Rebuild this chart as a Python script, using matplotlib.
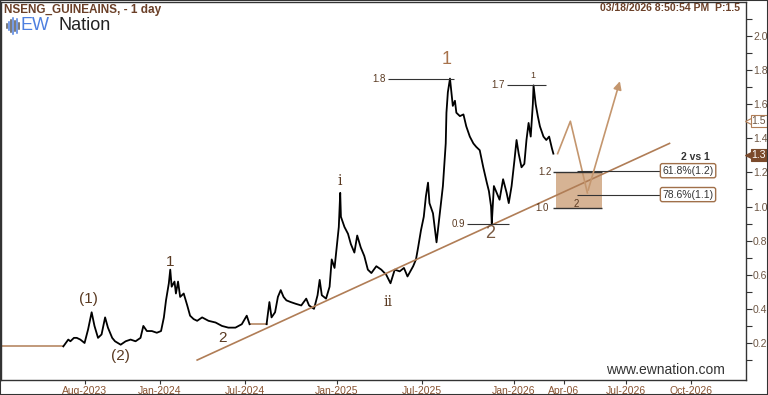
import matplotlib.pyplot as plt
from matplotlib.patches import Rectangle
from matplotlib.lines import Line2D

plt.rcParams['font.family'] = ['Liberation Sans', 'DejaVu Sans']

# daily bars (trading-day index from first bar) and price
bars_a = [0, 7, 10, 15, 19, 24, 30, 35, 40, 44, 49, 54, 59, 63, 69, 73, 81, 88, 95,
          102, 109, 113, 118, 125, 132, 138, 142, 145, 149, 151, 153, 157, 159, 162,
          165, 170, 175, 179, 184, 189, 196, 205, 215, 224, 233, 243, 252, 259, 263]
price_a = [0.18, 0.22, 0.21, 0.23, 0.23, 0.22, 0.20, 0.28, 0.38, 0.30, 0.23, 0.25, 0.35,
           0.29, 0.23, 0.21, 0.19, 0.21, 0.22, 0.21, 0.23, 0.30, 0.27, 0.27, 0.26, 0.27,
           0.35, 0.45, 0.55, 0.63, 0.53, 0.56, 0.49, 0.56, 0.47, 0.49, 0.42, 0.36, 0.34,
           0.33, 0.35, 0.33, 0.32, 0.30, 0.29, 0.29, 0.31, 0.36, 0.31]

bars_b = [287, 291, 294, 299, 303, 307, 311, 315, 321, 328, 336, 343, 347, 354, 359, 362,
          365, 371, 376, 379, 383, 386, 389, 391, 392, 397, 402, 406, 411, 415, 420, 425,
          430, 435, 442, 449, 456, 462, 468, 475, 481, 486, 494, 498, 501, 505, 509, 512,
          515, 517, 522, 527, 536, 540, 541, 543, 546, 548, 550, 553, 555, 560, 565, 569,
          574, 579, 583, 588, 593, 598, 601, 604, 605, 608, 612, 616, 621, 626, 629, 633,
          637, 640, 643, 647, 651, 654, 657, 660, 663, 664, 667, 670, 673, 678, 682, 686,
          690, 692]
price_b = [0.31, 0.44, 0.35, 0.38, 0.47, 0.51, 0.47, 0.45, 0.44, 0.43, 0.42, 0.46, 0.42,
           0.40, 0.48, 0.57, 0.48, 0.46, 0.53, 0.69, 0.64, 0.76, 0.88, 1.08, 0.94, 0.88,
           0.84, 0.78, 0.73, 0.83, 0.76, 0.71, 0.63, 0.61, 0.65, 0.63, 0.60, 0.55, 0.63,
           0.62, 0.64, 0.59, 0.65, 0.69, 0.76, 0.86, 0.94, 1.06, 1.14, 1.02, 0.96, 0.79,
           1.12, 1.37, 1.55, 1.67, 1.75, 1.67, 1.59, 1.62, 1.55, 1.53, 1.54, 1.47, 1.41,
           1.37, 1.35, 1.33, 1.23, 1.14, 1.09, 1.00, 0.90, 1.12, 1.08, 1.04, 1.16, 1.08,
           1.02, 1.12, 1.27, 1.39, 1.31, 1.23, 1.25, 1.39, 1.49, 1.41, 1.60, 1.71, 1.60,
           1.53, 1.47, 1.41, 1.39, 1.41, 1.34, 1.31]

tick_pos = [30, 136, 257, 386, 506, 636, 707, 795, 887]
tick_labels = ['Aug-2023', 'Jan-2024', 'Jul-2024', 'Jan-2025', 'Jul-2025',
               'Jan-2026', 'Apr-06', 'Jul-2026', 'Oct-2026']

trend_x = [189, 856]
trend_y = [0.10, 1.37]

proj_x = [698, 716, 740, 787]
proj_y = [1.31, 1.50, 1.08, 1.75]

zone_x = [695, 761]
zone_y = [0.99, 1.20]

fib_levels = [1.21, 1.07]
fib_labels = ['61.8%(1.2)', '78.6%(1.1)']

BROWN = '#b07d56'
DARK_BROWN = '#6b4028'
TXT = '#5a3a22'

fig = plt.figure(figsize=(7.68, 3.95), dpi=100)
ax = fig.add_axes([1 / 768, 15 / 395, 745 / 768, 378 / 395])
ax.set_xlim(-88, 964)
ax.set_ylim(-0.017, 2.199)

# price
ax.plot([-88, bars_a[0]], [price_a[0]] * 2, color=BROWN, lw=1.1)
ax.plot([bars_a[-1], bars_b[0]], [price_a[-1], price_b[0]], color=BROWN, lw=1.1)
ax.plot(bars_a, price_a, color='black', lw=1.3)
ax.plot(bars_b, price_b, color='black', lw=1.3)

# trendline and projection
ax.plot(trend_x, trend_y, color=BROWN, lw=1.2)
ax.plot(proj_x[:3], proj_y[:3], color='#c4966e', lw=1.2)
ax.annotate('', xy=(proj_x[3], proj_y[3]), xytext=(proj_x[2], proj_y[2]),
            arrowprops=dict(arrowstyle='-|>', color='#c4966e', lw=1.2, mutation_scale=12))

# target zone
ax.add_patch(Rectangle((zone_x[0], zone_y[0]), zone_x[1] - zone_x[0], zone_y[1] - zone_y[0],
                       facecolor='#d6b394', edgecolor='none', zorder=0))
ax.hlines(zone_y, zone_x[0] - 3, zone_x[1], color='#333333', lw=1)
ax.text(zone_x[0] - 6, zone_y[1], '1.2', ha='right', va='center', fontsize=7, color=TXT)
ax.text(zone_x[0] - 9, zone_y[0], '1.0', ha='right', va='center', fontsize=7, color=TXT)
ax.text(725, 1.015, '2', ha='center', va='center', fontsize=7, color=TXT)
for lvl, lab in zip(fib_levels, fib_labels):
    ax.hlines(lvl, 725, 844, color='#333333', lw=0.8)
    ax.text(846, lvl, lab, ha='left', va='center', fontsize=7.5, color='#333333',
            bbox=dict(boxstyle='round,pad=0.2', fc='white', ec='#a0704a', lw=1))
ax.text(913, 1.29, '2 vs 1', ha='right', va='center', fontsize=7.5, fontweight='bold',
        color='#333333')

# swing levels
ax.hlines(1.75, 458, 552, color='#333333', lw=0.8)
ax.text(455, 1.75, '1.8', ha='right', va='center', fontsize=7, color=TXT)
ax.hlines(1.71, 626, 681, color='#333333', lw=0.8)
ax.text(623, 1.71, '1.7', ha='right', va='center', fontsize=7, color=TXT)
ax.hlines(0.896, 570, 630, color='#333333', lw=0.8)
ax.text(567, 0.896, '0.9', ha='right', va='center', fontsize=7, color=TXT)

# wave labels
ax.text(36, 0.46, '(1)', ha='center', va='center', fontsize=11, color=TXT)
ax.text(80, 0.125, '(2)', ha='center', va='center', fontsize=11, color=TXT)
ax.text(151, 0.675, '1', ha='center', va='center', fontsize=11, color=TXT)
ax.text(225, 0.23, '2', ha='center', va='center', fontsize=11, color=TXT)
ax.text(390, 1.15, 'i', ha='center', va='center', fontsize=10, color=TXT, family='serif')
ax.text(459, 0.44, 'ii', ha='center', va='center', fontsize=10, color=TXT, family='serif')
ax.text(541, 1.86, '1', ha='center', va='center', fontsize=13, color='#a8734c')
ax.text(663, 1.77, '1', ha='center', va='center', fontsize=6.5, color=TXT)
ax.text(602, 0.84, '2', ha='center', va='center', fontsize=13, color='#7a5a42')

# axes styling
ax.yaxis.tick_right()
ax.set_yticks([0.2, 0.4, 0.6, 0.8, 1.0, 1.2, 1.4, 1.6, 1.8, 2.0])
ax.set_yticklabels(['0.2', '0.4', '0.6', '0.8', '1.0', '1.2', '1.4', '1.6', '1.8', '2.0'])
ax.set_yticks([0.1, 0.3, 0.5, 0.7, 0.9, 1.1, 1.3, 1.5, 1.7, 1.9, 2.1], minor=True)
ax.tick_params(axis='y', which='both', direction='out', length=4, width=0.8,
               labelsize=7.5, labelcolor='#6d5644', color='#333333', pad=1)
ax.set_xticks(tick_pos)
ax.set_xticklabels(tick_labels)
ax.tick_params(axis='x', direction='out', length=3, width=0.8, labelsize=7.5,
               labelcolor='#8a5432', color='#333333', pad=1)
for s in ax.spines.values():
    s.set_color('#333333')
    s.set_linewidth(1)

# price tags on the axis
ytr = ax.get_yaxis_transform()
for val, fc, tc in [(1.5, 'white', '#6d5644'), (1.3, '#7b4a2b', 'white')]:
    ec = BROWN if fc == 'white' else fc
    ax.plot(1.0045, val, marker='<', ms=6, mfc=fc, mec=ec,
            mew=0.8, transform=ytr, clip_on=False, zorder=5)
    ax.text(1.0075, val, f'{val:.1f}', transform=ytr, ha='left', va='center', fontsize=7.5,
            color=tc, clip_on=False, zorder=6,
            bbox=dict(boxstyle='square,pad=0.1', fc=fc, ec=ec, lw=0.8))

# header
fig.text(4 / 768, 1 - 10 / 395, 'NSENG_GUINEAINS, - 1 day', ha='left', va='center',
         fontsize=8.5, fontweight='bold', color=DARK_BROWN)
fig.text(740 / 768, 1 - 8 / 395, '03/18/2026 8:50:54 PM  P:1.5', ha='right', va='center',
         fontsize=7.5, fontweight='bold', color=DARK_BROWN)
fig.text(21 / 768, 1 - 26 / 395, 'EW', ha='left', va='center', fontsize=13,
         color='#4d7fe0')
fig.text(59 / 768, 1 - 26 / 395, 'Nation', ha='left', va='center', fontsize=13,
         color='#222222')
logo_h = [4, 8, 12, 16, 10, 14, 6]
for k, h in enumerate(logo_h):
    xx = (7 + k * 2) / 768
    fig.add_artist(Line2D([xx, xx], [1 - (26 + h / 2) / 395, 1 - (26 - h / 2) / 395],
                          color='#4d7fe0' if k % 2 else '#555555', lw=1.1))
fig.text(725 / 768, 1 - 370 / 395, 'www.ewnation.com', ha='right', va='center',
         fontsize=10, color='#333333')

fig.add_artist(Rectangle((0, 0), 1, 1, transform=fig.transFigure, fill=False,
                         edgecolor='#333333', lw=1.5))

fig.savefig('out.png', dpi=100)
